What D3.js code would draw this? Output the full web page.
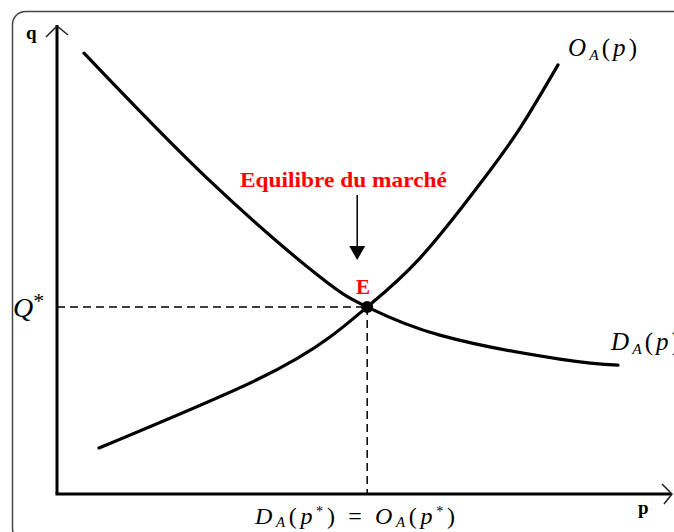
<!DOCTYPE html>
<html>
<head>
<meta charset="utf-8">
<script src="https://cdn.jsdelivr.net/npm/d3@7"></script>
<style>
  body { margin: 0; background: #fff; }
  svg { display: block; }
  text { font-family: "Liberation Serif", "DejaVu Serif", serif; }
</style>
</head>
<body>
<div id="chart"></div>
<script>
// demand curve D_A(p) (p, q in arbitrary units 0-100)
const demandP = [4.5, 25, 43.8, 51.7, 63.8, 83.8, 93.5];
const demandQ = [93.8, 67.2, 46.2, 39.8, 33.8, 28.7, 27.4];

// supply curve O_A(p)
const supplyP = [7, 33.3, 45.5, 51.7, 60.5, 70.5, 77.2, 83.5];
const supplyQ = [9.8, 24.3, 33.4, 39.8, 50.2, 66.0, 77.9, 91.3];

// equilibrium point E
const eqP = 51.7;
const eqQ = 39.8;

const width = 674, height = 532;
const svg = d3.select("#chart").append("svg")
    .attr("width", width)
    .attr("height", height);

// outer rounded frame
svg.append("rect")
    .attr("x", 12.5).attr("y", 11.5)
    .attr("width", 700).attr("height", 530)
    .attr("rx", 13)
    .attr("fill", "none")
    .attr("stroke", "#444")
    .attr("stroke-width", 1.5);

const x = d3.scaleLinear().domain([0, 100]).range([57, 657]);
const y = d3.scaleLinear().domain([0, 100]).range([494, 24]);

const line = d3.line()
    .x(d => x(d[0]))
    .y(d => y(d[1]))
    .curve(d3.curveNatural);

// axes
svg.append("line")
    .attr("x1", x(0)).attr("y1", y(0))
    .attr("x2", x(0)).attr("y2", 25)
    .attr("stroke", "#000").attr("stroke-width", 3);
svg.append("line")
    .attr("x1", x(0) - 1.5).attr("y1", y(0))
    .attr("x2", 671).attr("y2", y(0))
    .attr("stroke", "#000").attr("stroke-width", 3);

// open arrow heads
svg.append("path")
    .attr("d", `M${x(0) - 11},37 L${x(0)},26 L${x(0) + 11},35`)
    .attr("fill", "none").attr("stroke", "#222").attr("stroke-width", 1.5);
svg.append("path")
    .attr("d", `M662,484 L672,${y(0)} L664,504`)
    .attr("fill", "none").attr("stroke", "#222").attr("stroke-width", 1.5);

// dashed guides to the equilibrium
svg.append("line")
    .attr("x1", x(0)).attr("y1", y(eqQ))
    .attr("x2", x(eqP)).attr("y2", y(eqQ))
    .attr("stroke", "#000").attr("stroke-width", 1.5)
    .attr("stroke-dasharray", "8,5");
svg.append("line")
    .attr("x1", x(eqP)).attr("y1", y(eqQ))
    .attr("x2", x(eqP)).attr("y2", y(0))
    .attr("stroke", "#000").attr("stroke-width", 1.5)
    .attr("stroke-dasharray", "8,5");

// curves
svg.append("path")
    .datum(d3.zip(demandP, demandQ))
    .attr("d", line)
    .attr("fill", "none").attr("stroke", "#000")
    .attr("stroke-width", 3.2).attr("stroke-linecap", "round");
svg.append("path")
    .datum(d3.zip(supplyP, supplyQ))
    .attr("d", line)
    .attr("fill", "none").attr("stroke", "#000")
    .attr("stroke-width", 3.2).attr("stroke-linecap", "round");

svg.append("circle")
    .attr("cx", x(eqP)).attr("cy", y(eqQ))
    .attr("r", 6).attr("fill", "#000");

// arrow pointing to E
svg.append("line")
    .attr("x1", x(eqP) - 10).attr("y1", 195)
    .attr("x2", x(eqP) - 10).attr("y2", 248)
    .attr("stroke", "#000").attr("stroke-width", 1.5);
svg.append("path")
    .attr("d", `M${x(eqP) - 18},246 L${x(eqP) - 2},246 L${x(eqP) - 10},260 Z`)
    .attr("fill", "#000");

// labels
svg.append("text")
    .attr("x", 26).attr("y", 39)
    .attr("font-size", 19).attr("font-weight", "bold")
    .text("q");
svg.append("text")
    .attr("x", 638).attr("y", 514)
    .attr("font-size", 19).attr("font-weight", "bold")
    .text("p");

svg.append("text")
    .attr("x", 240).attr("y", 187)
    .attr("font-size", 21).attr("font-weight", "bold")
    .attr("fill", "#ff0000")
    .attr("textLength", 207)
    .attr("lengthAdjust", "spacingAndGlyphs")
    .text("Equilibre du marché");
svg.append("text")
    .attr("x", 356).attr("y", 294)
    .attr("font-size", 21).attr("font-weight", "bold")
    .attr("fill", "#ff0000")
    .text("E");

const qs = svg.append("text")
    .attr("x", 13).attr("y", 317)
    .attr("font-size", 28).attr("font-style", "italic");
qs.append("tspan").text("Q");
qs.append("tspan").attr("dy", -9).attr("font-size", 22).attr("font-style", "normal").text("*");

// math-style labels built from tspans
function mathLabel(xPos, yPos, parts, size, len) {
    const t = svg.append("text")
        .attr("x", xPos).attr("y", yPos)
        .attr("font-size", size);
    parts.forEach(p => {
        const s = t.append("tspan").text(p.t);
        if (p.i) s.attr("font-style", "italic");
        if (p.sub) s.attr("font-size", size * 0.62).attr("dy", size * 0.14);
        if (p.back) s.attr("dy", -size * 0.14);
        if (p.sup) s.attr("font-size", size * 0.6).attr("dy", -size * 0.35);
        if (p.down) s.attr("dy", size * 0.35);
    });
    if (len) t.attr("textLength", len).attr("lengthAdjust", "spacing");
    return t;
}

mathLabel(568, 56, [
    { t: "O", i: true }, { t: "A", i: true, sub: true },
    { t: "(", back: true }, { t: "p", i: true }, { t: ")" }
], 25, 69);

mathLabel(611, 350, [
    { t: "D", i: true }, { t: "A", i: true, sub: true },
    { t: "(", back: true }, { t: "p", i: true }, { t: ")" }
], 25, 69);

mathLabel(255, 524, [
    { t: "D", i: true }, { t: "A", i: true, sub: true },
    { t: "(", back: true }, { t: "p", i: true }, { t: "*", sup: true },
    { t: ") = ", down: true },
    { t: "O", i: true }, { t: "A", i: true, sub: true },
    { t: "(", back: true }, { t: "p", i: true }, { t: "*", sup: true },
    { t: ")", down: true }
], 24, 200);
</script>
</body>
</html>
